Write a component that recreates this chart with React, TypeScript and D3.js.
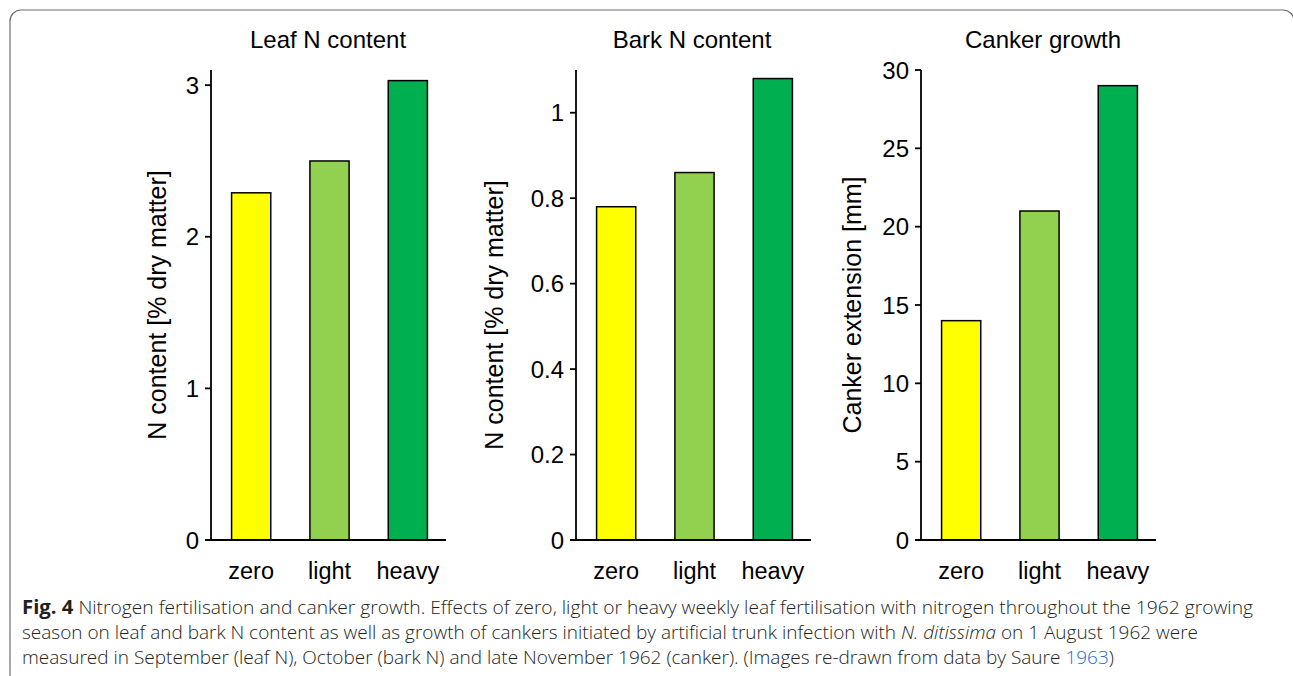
import React from "react";
import * as d3 from "d3";

const categories = ["zero", "light", "heavy"];
const barColors = ["#FFFF00", "#92D050", "#00B050"];

const leafN = [2.29, 2.5, 3.03];
const barkN = [0.78, 0.86, 1.08];
const canker = [14, 21, 29];

const leafTicks = [0, 1, 2, 3];
const barkTicks = [0, 0.2, 0.4, 0.6, 0.8, 1];
const cankerTicks = [0, 5, 10, 15, 20, 25, 30];

const panels = [
  { title: "Leaf N content", ylabel: "N content [% dry matter]", values: leafN, ticks: leafTicks, max: 3.1, axisX: 211, titleX: 328, labelX: 157, labelY: 305 },
  { title: "Bark N content", ylabel: "N content [% dry matter]", values: barkN, ticks: barkTicks, max: 1.1, axisX: 576, titleX: 692, labelX: 494, labelY: 315 },
  { title: "Canker growth", ylabel: "Canker extension [mm]", values: canker, ticks: cankerTicks, max: 30, axisX: 921, titleX: 1043, labelX: 852, labelY: 305 },
];

const FONT = "Liberation Sans, Arial, sans-serif";
const TOP = 70;
const BOTTOM = 540;
const WIDTH = 235;

function Panel({ p }: { p: (typeof panels)[number] }) {
  const y = d3.scaleLinear().domain([0, p.max]).range([BOTTOM, TOP]);
  const x = d3
    .scaleBand<string>()
    .domain(categories)
    .range([p.axisX + 1, p.axisX + 1 + WIDTH])
    .paddingInner(0.5)
    .paddingOuter(0.25);
  return (
    <g fontFamily={FONT} fill="#000">
      <text x={p.titleX} y={48} fontSize={24} textAnchor="middle">
        {p.title}
      </text>
      <text
        transform={`translate(${p.labelX},${p.labelY}) rotate(-90)`}
        fontSize={25}
        textAnchor="middle"
        dominantBaseline="central"
      >
        {p.ylabel}
      </text>
      {categories.map((c, i) => (
        <rect
          key={c}
          x={x(c)}
          y={y(p.values[i])}
          width={x.bandwidth()}
          height={y(0) - y(p.values[i])}
          fill={barColors[i]}
          stroke="#000"
          strokeWidth={1.5}
        />
      ))}
      <line x1={p.axisX} x2={p.axisX} y1={TOP} y2={BOTTOM} stroke="#000" strokeWidth={1.8} />
      <line x1={p.axisX - 6} x2={p.axisX + WIDTH} y1={BOTTOM} y2={BOTTOM} stroke="#000" strokeWidth={1.8} />
      {p.ticks.map((t) => (
        <g key={t}>
          <line x1={p.axisX - 6} x2={p.axisX} y1={y(t)} y2={y(t)} stroke="#000" strokeWidth={1.8} />
          <text x={p.axisX - 12} y={y(t)} fontSize={24} textAnchor="end" dominantBaseline="central">
            {String(t)}
          </text>
        </g>
      ))}
      {categories.map((c) => (
        <text key={c} x={(x(c) as number) + x.bandwidth() / 2} y={579} fontSize={23.5} textAnchor="middle">
          {c}
        </text>
      ))}
    </g>
  );
}

export default function App() {
  const capFont = "'Open Sans', 'Noto Sans', sans-serif";
  const capColor = "#231f20";
  return (
    <svg width={1293} height={676} style={{ position: "absolute", left: 0, top: 0 }}>
      <rect x={0} y={0} width={1293} height={676} fill="#fff" />
      <rect x={10} y={10} width={1284} height={700} rx={11} fill="none" stroke="#6d6d6d" strokeWidth={1.2} />
      {panels.map((p) => (
        <Panel key={p.title} p={p} />
      ))}
      <g fontFamily={capFont} fill={capColor} fontSize={18} fontWeight={300}>
        <text x={22} y={614} textLength={1231} lengthAdjust="spacingAndGlyphs">
          <tspan fontWeight="bold" fontSize={19}>Fig. 4</tspan>
          <tspan>{"  Nitrogen fertilisation and canker growth. Effects of zero, light or heavy weekly leaf fertilisation with nitrogen throughout the 1962 growing"}</tspan>
        </text>
        <text x={22} y={639} textLength={1176} lengthAdjust="spacingAndGlyphs">
          <tspan>season on leaf and bark N content as well as growth of cankers initiated by artificial trunk infection with </tspan>
          <tspan fontStyle="italic">N. ditissima</tspan>
          <tspan> on 1 August 1962 were</tspan>
        </text>
        <text x={22} y={664} textLength={1092} lengthAdjust="spacingAndGlyphs">
          <tspan>measured in September (leaf N), October (bark N) and late November 1962 (canker). (Images re-drawn from data by Saure </tspan>
          <tspan fill="#1f6fc5">1963</tspan>
          <tspan>)</tspan>
        </text>
      </g>
    </svg>
  );
}
